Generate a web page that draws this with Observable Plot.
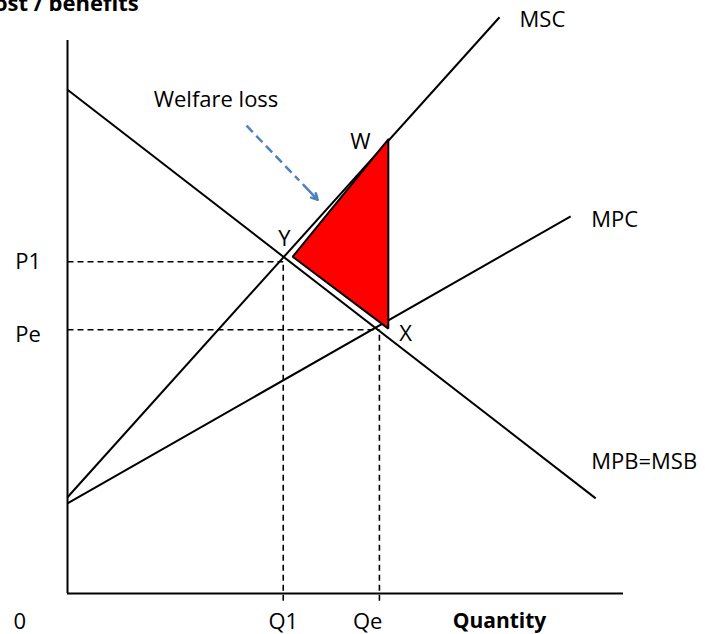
<!DOCTYPE html>
<html><head><meta charset="utf-8">
<script src="https://cdn.jsdelivr.net/npm/d3@7"></script>
<script src="https://cdn.jsdelivr.net/npm/@observablehq/plot@0.6"></script>
<style>body{margin:0;background:#fff}</style>
</head><body><div id="chart"></div>
<script>
// Curves (quantity, price in 0..100 units)
const curveNames = ["MSC", "MPC", "MPB=MSB"];
const curveQ1 = [0, 0, 0];
const curveP1 = [17.4, 16.3, 91.1];
const curveQ2 = [77.7, 90.5, 95];
const curveP2 = [104.2, 68.2, 17.2];

// Equilibria
const eqNames = ["P1/Q1", "Pe/Qe"];
const eqQ = [38.8, 56.1];
const eqP = [60.0, 47.7];

// Welfare-loss triangle (W, Y, X)
const triQ = [57.7, 40.5, 57.7];
const triP = [82.1, 60.9, 47.9];

// Left-anchored labels
const leftText = ["MSC", "MPC", "MPB=MSB", "Welfare loss", "P1", "Pe"];
const leftQ = [81.3, 94.2, 94.2, 15.5, -9.4, -9.4];
const leftP = [103.8, 67.6, 23.7, 89.3, 59.9, 46.7];

// Centred point labels
const pointText = ["W", "Y", "X"];
const pointQ = [52.7, 39.0, 60.8];
const pointP = [81.6, 64.2, 47.0];

// Axis tick labels
const tickText = ["0", "Q1", "Qe"];
const tickQ = [-8.6, 38.8, 54.0];
const tickP = -5.1;

// Arrow (start, end)
const arrowQ = [32.2, 45.0];
const arrowP = [84.6, 71.2];

const idx = d3.range(curveNames.length);
const eqIdx = d3.range(eqNames.length);
const tri = triQ.map((q, i) => ({q, p: triP[i]}));
const lerp = (a, b, t) => a + (b - a) * t;

const plot = Plot.plot({
  width: 705, height: 634,
  marginLeft: 67, marginRight: 82, marginTop: 40, marginBottom: 41,
  x: {domain: [0, 100], axis: null},
  y: {domain: [0, 100], axis: null},
  style: {fontFamily: "'Open Sans', sans-serif", background: "white", color: "black"},
  marks: [
    // axes
    Plot.ruleX([0], {y1: 0, y2: 100, stroke: "black", strokeWidth: 2}),
    Plot.ruleY([0], {x1: 0, x2: 100, stroke: "black", strokeWidth: 2}),
    // dashed guides
    Plot.link(eqIdx, {x1: 0, x2: i => eqQ[i], y1: i => eqP[i], y2: i => eqP[i], stroke: "black", strokeWidth: 1.6, strokeDasharray: "6,4"}),
    Plot.link(eqIdx, {x1: i => eqQ[i], x2: i => eqQ[i], y1: -1.3, y2: i => eqP[i], stroke: "black", strokeWidth: 1.6, strokeDasharray: "6,4"}),
    // curves
    Plot.link(idx, {x1: i => curveQ1[i], y1: i => curveP1[i], x2: i => curveQ2[i], y2: i => curveP2[i], stroke: "black", strokeWidth: 2}),
    // triangle
    Plot.line([...tri, tri[0]], {x: "q", y: "p", fill: "#ff0000", stroke: "black", strokeWidth: 2, strokeLinejoin: "miter"}),
    // arrow: dashed shaft + solid head part
    Plot.link([0], {x1: arrowQ[0], y1: arrowP[0], x2: lerp(arrowQ[0], arrowQ[1], 0.74), y2: lerp(arrowP[0], arrowP[1], 0.74), stroke: "#4f81bd", strokeWidth: 2.5, strokeDasharray: "9,5"}),
    Plot.arrow([0], {x1: lerp(arrowQ[0], arrowQ[1], 0.8), y1: lerp(arrowP[0], arrowP[1], 0.8), x2: arrowQ[1], y2: arrowP[1], stroke: "#4f81bd", strokeWidth: 2.5, headLength: 14, headAngle: 55}),
    // labels
    Plot.text(leftText, {x: (d, i) => leftQ[i], y: (d, i) => leftP[i], text: d => d, textAnchor: "start", fontSize: 22, fill: "black"}),
    Plot.text(pointText, {x: (d, i) => pointQ[i], y: (d, i) => pointP[i], text: d => d, fontSize: 22, fill: "black"}),
    Plot.text(tickText, {x: (d, i) => tickQ[i], y: tickP, text: d => d, fontSize: 22, fill: "black"}),
    Plot.text(["Quantity"], {x: 77.7, y: tickP, text: d => d, fontSize: 21, fontWeight: "bold", fill: "black"}),
    Plot.text(["Cost / benefits"], {x: 12.8, y: 106.6, text: d => d, textAnchor: "end", fontSize: 22, fontWeight: "bold", fill: "black"})
  ]
});
document.getElementById("chart").append(plot);
</script>
</body></html>
